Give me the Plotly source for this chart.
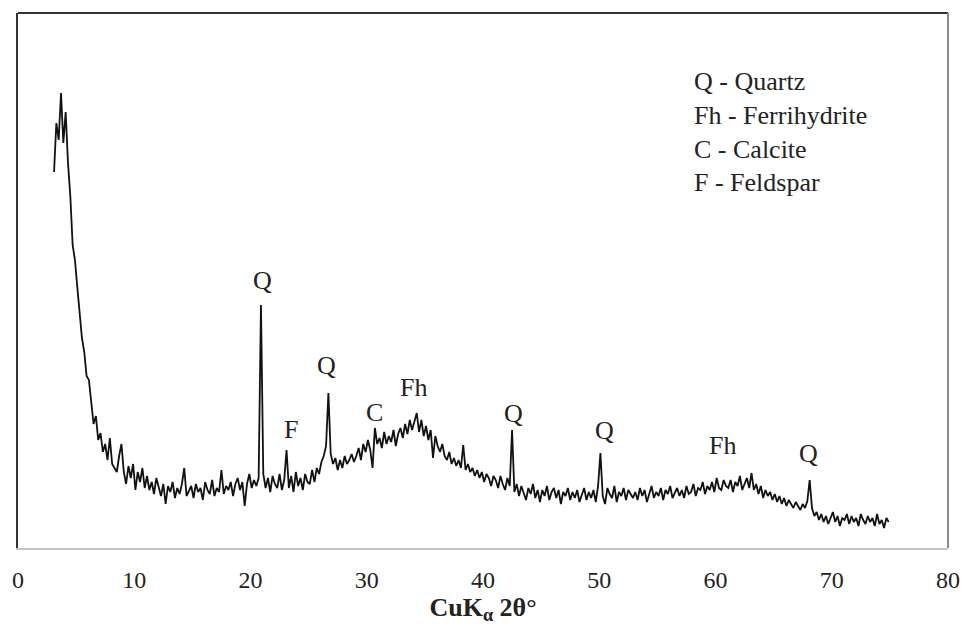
import numpy as np
import plotly.graph_objects as go

# ---- data ----
# diffraction angle 2-theta (degrees), sampled every 0.2 deg from 3.1 to 74.9
two_theta = np.round(3.1 + 0.2 * np.arange(360), 1)

# intensity (arbitrary units), one row = 2 degrees
intensity = [
    376, 425, 408, 455, 405, 436, 385, 352, 303, 288,   # 3.1 - 4.9
    261, 236, 210, 196, 172, 168, 146, 124, 132, 108,   # 5.1 - 6.9
    115, 96, 104, 88, 110, 84, 80, 76, 92, 104,         # 7.1 - 8.9
    76, 64, 82, 70, 84, 58, 76, 66, 80, 60,             # 9.1 - 10.9
    72, 58, 66, 54, 70, 60, 52, 64, 44, 62,             # 11.1 - 12.9
    56, 66, 50, 60, 54, 64, 80, 52, 58, 62,             # 13.1 - 14.9
    50, 64, 56, 60, 48, 66, 58, 54, 68, 52,             # 15.1 - 16.9
    60, 56, 78, 54, 62, 58, 66, 52, 64, 70,             # 17.1 - 18.9
    58, 66, 42, 64, 74, 60, 68, 62, 70, 243,            # 19.1 - 20.9
    74, 60, 70, 56, 72, 64, 60, 74, 58, 68,             # 21.1 - 22.9
    98, 60, 72, 56, 76, 62, 70, 58, 74, 66,             # 23.1 - 24.9
    64, 78, 66, 80, 74, 86, 92, 102, 155, 94,           # 25.1 - 26.9
    84, 90, 78, 88, 80, 92, 84, 88, 94, 86,             # 27.1 - 28.9
    92, 100, 88, 104, 96, 108, 98, 80, 120, 104,        # 29.1 - 30.9
    110, 100, 116, 104, 112, 106, 118, 102, 114, 120,   # 31.1 - 32.9
    110, 124, 114, 128, 118, 126, 135, 116, 128, 112,   # 33.1 - 34.9
    122, 108, 118, 90, 112, 102, 96, 104, 92, 88,       # 35.1 - 36.9
    96, 84, 90, 82, 88, 80, 103, 78, 84, 76,            # 37.1 - 38.9
    80, 72, 78, 70, 76, 66, 74, 70, 62, 72,             # 39.1 - 40.9
    68, 60, 72, 64, 58, 70, 62, 118, 56, 64,            # 41.1 - 42.9
    52, 62, 56, 48, 60, 54, 64, 50, 58, 46,             # 43.1 - 44.9
    58, 52, 62, 48, 56, 60, 50, 58, 44, 56,             # 45.1 - 46.9
    52, 60, 48, 56, 50, 58, 46, 54, 60, 48,             # 47.1 - 48.9
    56, 50, 58, 46, 62, 95, 52, 44, 60, 54,             # 49.1 - 50.9
    50, 62, 46, 56, 52, 60, 48, 58, 54, 50,             # 51.1 - 52.9
    56, 48, 60, 52, 58, 46, 54, 62, 50, 56,             # 53.1 - 54.9
    52, 60, 48, 58, 54, 62, 50, 56, 60, 52,             # 55.1 - 56.9
    58, 50, 62, 54, 56, 64, 52, 60, 58, 66,             # 57.1 - 58.9
    54, 62, 58, 66, 56, 70, 60, 58, 68, 62,             # 59.1 - 60.9
    60, 68, 56, 66, 62, 72, 58, 64, 70, 60,             # 61.1 - 62.9
    75, 58, 64, 54, 62, 50, 58, 52, 56, 48,             # 63.1 - 64.9
    54, 46, 52, 44, 50, 42, 48, 44, 40, 46,             # 65.1 - 66.9
    42, 38, 44, 40, 47, 68, 40, 32, 36, 28,             # 67.1 - 68.9
    34, 26, 32, 24, 30, 36, 26, 32, 22, 30,             # 69.1 - 70.9
    28, 34, 24, 32, 26, 30, 22, 34, 28, 24,             # 71.1 - 72.9
    32, 26, 30, 22, 34, 24, 28, 20, 30, 26,             # 73.1 - 74.9
]

# phase labels: text, 2-theta, intensity level of the label
label_text = ["Q", "F", "Q", "C", "Fh", "Q", "Q", "Fh", "Q"]
label_x = [21.0, 23.5, 26.55, 30.7, 34.05, 42.65, 50.45, 60.6, 68.0]
label_y = [268, 119, 183, 136, 161, 135, 118, 103, 95]

key_lines = ["Q - Quartz", "Fh - Ferrihydrite", "C - Calcite", "F - Feldspar"]

x_ticks = [0, 10, 20, 30, 40, 50, 60, 70, 80]

SERIF = "Liberation Serif"

fig = go.Figure()
fig.add_trace(go.Scatter(
    x=two_theta, y=intensity, mode="lines",
    line=dict(color="#111111", width=1.8),
    hoverinfo="x+y", showlegend=False,
))

for t, lx, ly in zip(label_text, label_x, label_y):
    fig.add_annotation(x=lx, y=ly, text=t, showarrow=False,
                       xanchor="center", yanchor="middle",
                       font=dict(family=SERIF, size=26, color="#222222"))

fig.add_annotation(xref="paper", yref="paper", x=0.725, y=0.778,
                   xanchor="left", yanchor="middle", align="left",
                   text="<br>".join(key_lines), showarrow=False,
                   font=dict(family=SERIF, size=26, color="#222222"))

# frame: darker top/left, lighter right/bottom as in the reference
fig.add_shape(type="line", xref="paper", yref="paper", x0=0, x1=1, y0=1, y1=1,
              line=dict(color="#333333", width=2))
fig.add_shape(type="line", xref="paper", yref="paper", x0=1, x1=1, y0=0, y1=1,
              line=dict(color="#8a8a8a", width=2))

fig.update_layout(
    width=972, height=626,
    margin=dict(l=13, r=14, t=13, b=78),
    paper_bgcolor="white", plot_bgcolor="white",
    font=dict(family=SERIF, color="#222222"),
    xaxis=dict(
        range=[0, 80], tickmode="array", tickvals=x_ticks,
        ticktext=[str(v) for v in x_ticks],
        showgrid=False, zeroline=False,
        showline=True, linecolor="#c4c4c4", linewidth=2,
        ticks="", ticklabelstandoff=9,
        tickfont=dict(family=SERIF, size=24, color="#222222"),
        title=dict(text="<b>CuK<sub>α</sub> 2θ°</b>", standoff=2,
                   font=dict(family=SERIF, size=26, color="#222222")),
    ),
    yaxis=dict(
        range=[0, 535], showticklabels=False, showgrid=False, zeroline=False,
        showline=True, linecolor="#333333", linewidth=2, ticks="",
    ),
)

fig.write_html("out.html")
